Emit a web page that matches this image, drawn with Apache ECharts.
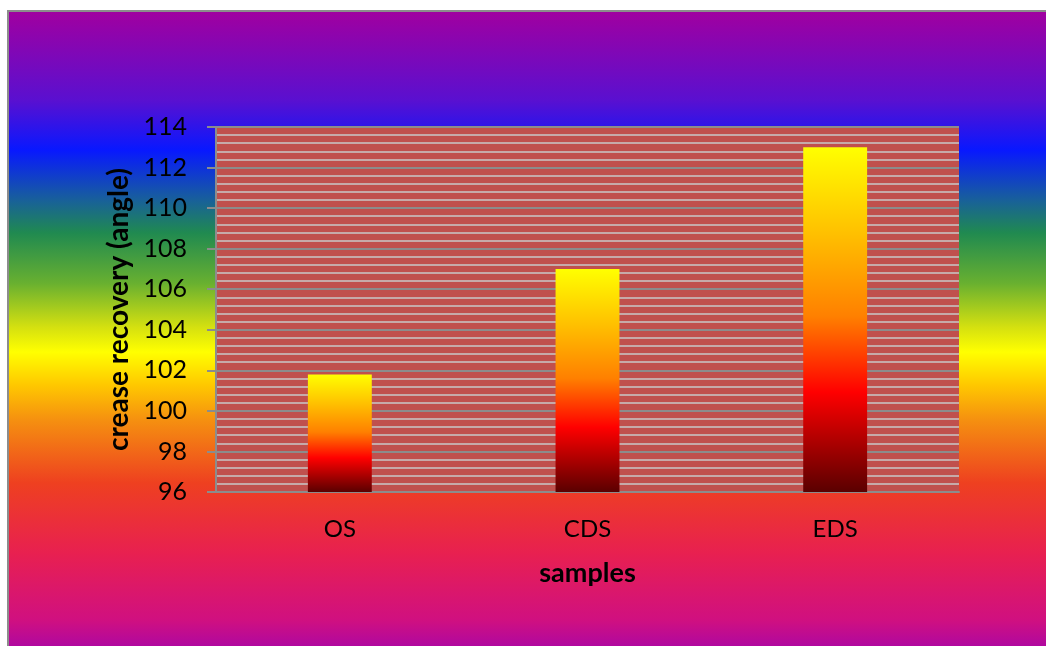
<!DOCTYPE html>
<html>
<head>
<meta charset="utf-8">
<script src="https://cdn.jsdelivr.net/npm/echarts@6/dist/echarts.min.js"></script>
<style>
  html, body { margin: 0; padding: 0; width: 1046px; height: 646px; overflow: hidden; background: #ffffff; }
  #bg {
    position: absolute; left: 7px; top: 10px; width: 1045px; height: 640px;
    border-left: 2px solid #8c8c8c; border-top: 2px solid #8c8c8c;
    background: linear-gradient(to bottom,
      #a000a0 0px, #5a10d0 88px, #0818ff 138px, #18609a 188px, #208a50 221px,
      #68b030 271px, #d4e010 315px, #ffff00 340px, #ffc800 373px, #f59010 408px,
      #ee4020 471px, #e82050 541px, #d01080 608px, #b0089f 634px);
  }
  #chart { position: absolute; left: 0; top: 0; width: 1046px; height: 646px; }
</style>
</head>
<body>
<div id="bg"></div>
<div id="chart"></div>
<script>
const categories = ['OS', 'CDS', 'EDS'];
const values = [101.8, 107.0, 113.0];
const yMin = 96, yMax = 114, yStep = 2;
const xTitle = 'samples';
const yTitle = 'crease recovery (angle)';

const chart = echarts.init(document.getElementById('chart'), null, { renderer: 'canvas' });
const FONT = 'Lato, "Open Sans", sans-serif';
chart.setOption({
  backgroundColor: 'transparent',
  animation: false,
  grid: {
    left: 216, top: 127, width: 743, height: 365,
    show: true, backgroundColor: '#c0504d', borderWidth: 0
  },
  xAxis: {
    type: 'category',
    data: categories,
    axisLine: { show: true, lineStyle: { color: '#8c8c8c', width: 2 } },
    axisTick: { show: false },
    axisLabel: { color: '#000', fontSize: 24, fontFamily: FONT, margin: 25 },
    name: xTitle,
    nameLocation: 'middle',
    nameGap: 68,
    nameTextStyle: { color: '#000', fontSize: 27, fontWeight: 'bold', fontFamily: FONT }
  },
  yAxis: {
    type: 'value',
    min: yMin, max: yMax, interval: yStep,
    axisLine: { show: true, lineStyle: { color: '#8c8c8c', width: 2 } },
    axisTick: { show: true, length: 9, lineStyle: { color: '#8c8c8c', width: 2 } },
    axisLabel: { color: '#000', fontSize: 25, fontFamily: FONT, margin: 29 },
    splitLine: { show: true, lineStyle: { color: '#8c8c8c', width: 2 } },
    minorTick: { show: false, splitNumber: 5 },
    minorSplitLine: { show: true, lineStyle: { color: '#c8c8c8', width: 1.6 } },
    name: yTitle,
    nameLocation: 'middle',
    nameGap: 79,
    nameRotate: 90,
    nameTextStyle: { color: '#000', fontSize: 28, fontWeight: 'bold', fontFamily: FONT }
  },
  series: [{
    type: 'bar',
    data: values,
    barWidth: '25.8%',
    itemStyle: {
      color: new echarts.graphic.LinearGradient(0, 0, 0, 1, [
        { offset: 0, color: '#ffff00' },
        { offset: 0.25, color: '#ffc000' },
        { offset: 0.49, color: '#ff8000' },
        { offset: 0.71, color: '#ff0000' },
        { offset: 1, color: '#5a0000' }
      ])
    }
  }]
});
</script>
</body>
</html>
